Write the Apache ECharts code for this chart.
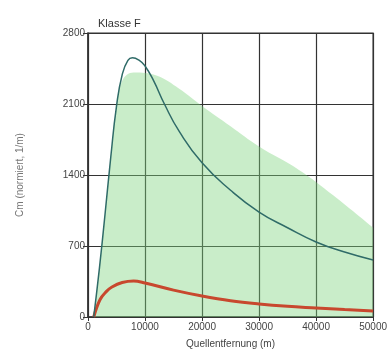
<!DOCTYPE html>
<html><head><meta charset="utf-8">
<script src="https://cdn.jsdelivr.net/npm/echarts@6/dist/echarts.min.js"></script>
<style>html,body{margin:0;padding:0;background:#fff}#c{width:390px;height:356px}</style>
</head><body><div id="c"></div>
<script>
const xTicks = [0, 10000, 20000, 30000, 40000, 50000];
const yTicks = [0, 700, 1400, 2100, 2800];
const blueLine = [[1000,0],[2000,480],[3000,1020],[4000,1580],[5000,2080],[6000,2390],[7000,2530],[7800,2555],[9000,2530],[10000,2475],[11500,2330],[13400,2100],[16000,1830],[20000,1520],[25000,1250],[30000,1035],[35000,880],[40000,740],[45000,640],[50000,562]];
const redLine = [[1000,0],[2100,170],[3200,250],[4200,296],[6000,340],[8000,355],[10000,335],[15000,265],[20000,207],[25000,160],[30000,128],[35000,105],[40000,89],[45000,73],[50000,60]];
const greenBand = [[1000,0],[2000,480],[3000,1020],[4000,1580],[5000,2080],[6000,2330],[8000,2410],[12000,2380],[16000,2250],[20000,2080],[25000,1880],[30000,1680],[37000,1450],[43000,1200],[50000,880]];

const chart = echarts.init(document.getElementById('c'));
const axisCol = '#333';
chart.setOption({
  animation: false,
  title: { text: 'Klasse F', left: 93, top: 13, textStyle: { fontSize: 11, fontWeight: 'normal', color: '#333', fontFamily: 'Liberation Sans' } },
  grid: { left: 88, right: 15, top: 33, bottom: 39, show: true, borderColor: axisCol, borderWidth: 1.2 },
  xAxis: {
    type: 'value', min: 0, max: 50000, interval: 10000,
    name: 'Quellentfernung (m)', nameLocation: 'middle', nameGap: 22,
    nameTextStyle: { fontSize: 10, color: '#444', fontFamily: 'Liberation Sans' },
    axisLine: { show: true, lineStyle: { color: axisCol, width: 1.5 } },
    axisTick: { show: true, length: 4, lineStyle: { color: axisCol } },
    axisLabel: { fontSize: 10, color: '#444', margin: 5, fontFamily: 'Liberation Sans', formatter: v => String(v) },
    splitLine: { show: true, lineStyle: { color: axisCol, width: 1.2 } }
  },
  yAxis: {
    type: 'value', min: 0, max: 2800, interval: 700,
    name: 'Cm (normiert, 1/m)', nameLocation: 'middle', nameGap: 63, nameRotate: 90,
    nameTextStyle: { fontSize: 10, color: '#777', fontFamily: 'Liberation Sans' },
    axisLine: { show: true, lineStyle: { color: axisCol, width: 1.5 } },
    axisTick: { show: true, length: 5, lineStyle: { color: axisCol } },
    axisLabel: { fontSize: 10, color: '#444', margin: 3, fontFamily: 'Liberation Sans', formatter: v => String(v) },
    splitLine: { show: true, lineStyle: { color: axisCol, width: 1.2 } }
  },
  series: [
    { type: 'line', data: greenBand, smooth: 0.4, symbol: 'none', z: 1,
      lineStyle: { width: 0 }, areaStyle: { color: '#7fd47f', opacity: 0.42 } },
    { type: 'line', data: redLine, smooth: 0.4, symbol: 'none', z: 3,
      lineStyle: { color: '#c8482e', width: 3 } },
    { type: 'line', data: blueLine, smooth: 0.5, symbol: 'none', z: 4,
      lineStyle: { color: '#2f6b68', width: 1.5 } }
  ]
});
</script></body></html>
